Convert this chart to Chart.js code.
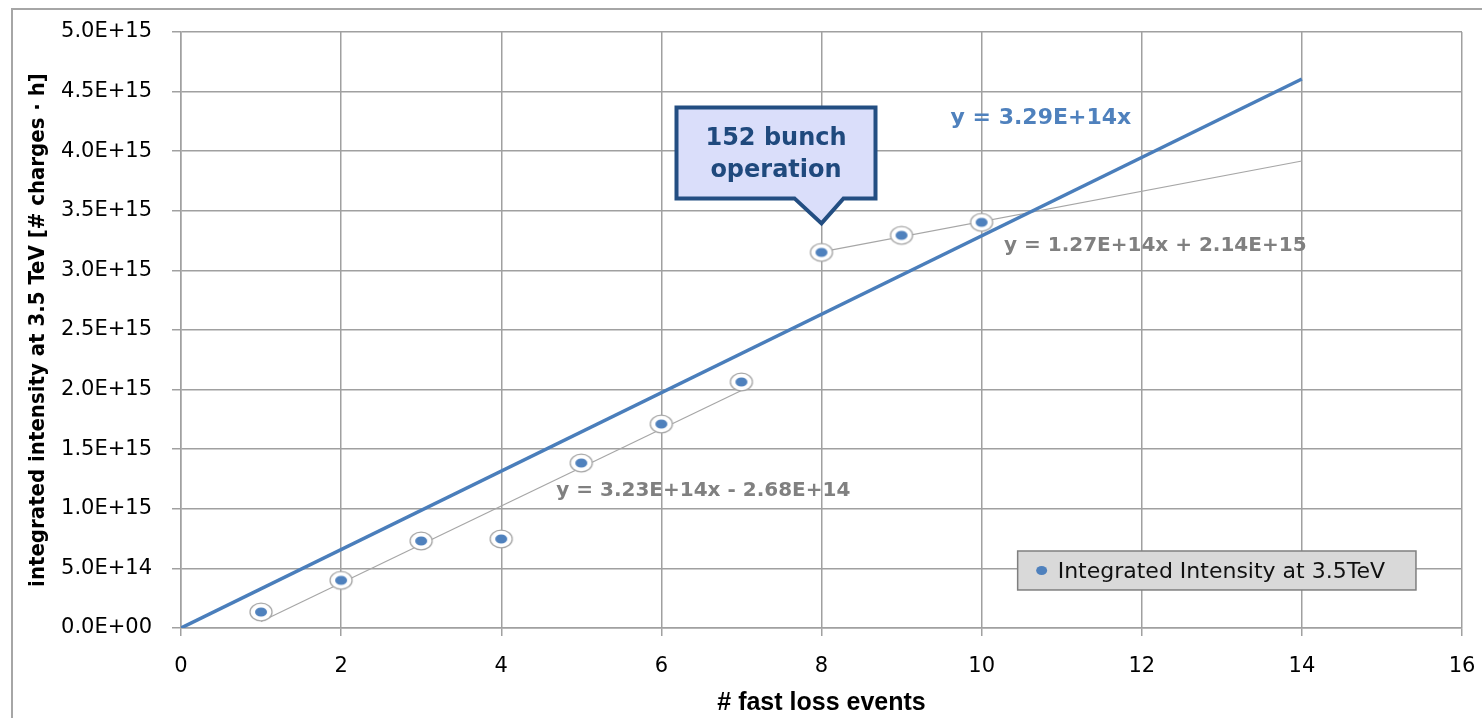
<!DOCTYPE html>
<html>
<head>
<meta charset="utf-8">
<script src="https://cdn.jsdelivr.net/npm/chart.js@4.4.1/dist/chart.umd.min.js"></script>
<style>
  html, body { margin: 0; padding: 0; background: #ffffff; }
  canvas { display: block; }
</style>
</head>
<body>
<canvas id="chart" width="1482" height="718"></canvas>
<script>
// Measured integrated intensity per fast loss event count
const fastLossEvents = [1, 2, 3, 4, 5, 6, 7, 8, 9, 10];
const integratedIntensity = [1.34e14, 4.0e14, 7.3e14, 7.47e14, 1.384e15, 1.711e15, 2.064e15, 3.151e15, 3.294e15, 3.403e15];

// Linear fits: slope, intercept, x range and the equation shown next to each
const fitSlopes = [3.29e14, 3.23e14, 1.27e14];
const fitIntercepts = [0, -2.68e14, 2.14e15];
const fitStarts = [0, 1, 8];
const fitEnds = [14, 7, 14];
const fitLabels = ['y = 3.29E+14x', 'y = 3.23E+14x - 2.68E+14', 'y = 1.27E+14x + 2.14E+15'];

// Axis ranges
const xRange = [0, 16, 2];
const yRange = [0, 5e15, 5e14];

const seriesName = 'Integrated Intensity at 3.5TeV';
const calloutLines = ['152 bunch', 'operation'];
const calloutPointIndex = 7;

const BLUE = '#4f81bd';
const GRID = '#a0a0a0';

function sciLabel(v) {
  if (Math.abs(v) < 1) return '0.0E+00';
  const e = Math.floor(Math.log10(Math.abs(v)) + 1e-9);
  const m = v / Math.pow(10, e);
  return m.toFixed(1) + 'E+' + String(e).padStart(2, '0');
}

// Circled marker: white ellipse ring with a blue dot inside
function makeMarker() {
  const c = document.createElement('canvas');
  c.width = 26; c.height = 22;
  const g = c.getContext('2d');
  g.beginPath();
  g.ellipse(13, 11, 11, 8.8, 0, 0, Math.PI * 2);
  g.fillStyle = '#ffffff';
  g.fill();
  g.lineWidth = 1.3;
  g.strokeStyle = '#a6a6a6';
  g.stroke();
  g.beginPath();
  g.ellipse(13, 11, 6, 4.6, 0, 0, Math.PI * 2);
  g.fillStyle = BLUE;
  g.fill();
  return c;
}

function fitPoints(i) {
  return [fitStarts[i], fitEnds[i]].map(x => ({ x: x, y: fitSlopes[i] * x + fitIntercepts[i] }));
}

// Text positions in data units (x, baseline y)
const labelAnchors = [
  { x: 9.6125, y: 4.228e15, color: BLUE, font: 'bold 22px "DejaVu Sans"' },
  { x: 4.6875, y: 1.104e15, color: '#808080', font: 'bold 20px "DejaVu Sans"' },
  { x: 10.28, y: 3.165e15, color: '#808080', font: 'bold 20px "DejaVu Sans"' }
];

const decorPlugin = {
  id: 'decor',
  beforeDraw(chart) {
    const ctx = chart.ctx;
    ctx.save();
    ctx.fillStyle = '#ffffff';
    ctx.fillRect(0, 0, chart.width, chart.height);
    ctx.strokeStyle = '#a6a6a6';
    ctx.lineWidth = 2;
    ctx.beginPath();
    ctx.moveTo(12, chart.height + 2);
    ctx.lineTo(12, 9);
    ctx.lineTo(chart.width + 2, 9);
    ctx.stroke();
    ctx.restore();
  },
  afterDatasetsDraw(chart) {
    const ctx = chart.ctx;
    const xs = chart.scales.x, ys = chart.scales.y;
    ctx.save();

    // Fit equations
    ctx.textBaseline = 'alphabetic';
    ctx.textAlign = 'left';
    labelAnchors.forEach((a, i) => {
      ctx.font = a.font;
      ctx.fillStyle = a.color;
      ctx.fillText(fitLabels[i], xs.getPixelForValue(a.x), ys.getPixelForValue(a.y));
    });

    // Callout pointing at the first 152-bunch point
    const px = xs.getPixelForValue(fastLossEvents[calloutPointIndex]);
    const py = ys.getPixelForValue(integratedIntensity[calloutPointIndex]);
    const left = px - 145, right = px + 54, top = py - 145, bottom = py - 54;
    ctx.beginPath();
    ctx.moveTo(left, top);
    ctx.lineTo(right, top);
    ctx.lineTo(right, bottom);
    ctx.lineTo(px + 22, bottom);
    ctx.lineTo(px, py - 29);
    ctx.lineTo(px - 27, bottom);
    ctx.lineTo(left, bottom);
    ctx.closePath();
    ctx.fillStyle = '#dadefa';
    ctx.fill();
    ctx.lineWidth = 4;
    ctx.lineJoin = 'miter';
    ctx.strokeStyle = '#234e82';
    ctx.stroke();
    ctx.font = 'bold 24px "DejaVu Sans"';
    ctx.fillStyle = '#1f497d';
    ctx.textAlign = 'center';
    const cx = (left + right) / 2;
    ctx.fillText(calloutLines[0], cx, py - 107.5);
    ctx.fillText(calloutLines[1], cx, py - 75);

    // Legend box
    const lx0 = xs.getPixelForValue(10.45), lx1 = xs.getPixelForValue(15.425);
    const ly0 = ys.getPixelForValue(6.46e14), ly1 = ys.getPixelForValue(3.19e14);
    ctx.fillStyle = '#d9d9d9';
    ctx.fillRect(lx0, ly0, lx1 - lx0, ly1 - ly0);
    ctx.lineWidth = 1.5;
    ctx.strokeStyle = '#7f7f7f';
    ctx.strokeRect(lx0, ly0, lx1 - lx0, ly1 - ly0);
    ctx.beginPath();
    ctx.ellipse(lx0 + 24, (ly0 + ly1) / 2, 5.5, 4.5, 0, 0, Math.PI * 2);
    ctx.fillStyle = BLUE;
    ctx.fill();
    ctx.font = '22px "DejaVu Sans"';
    ctx.fillStyle = '#111111';
    ctx.textAlign = 'left';
    ctx.fillText(seriesName, lx0 + 40, ly0 + 27.5);
    ctx.restore();
  }
};

const marker = makeMarker();

new Chart(document.getElementById('chart'), {
  type: 'scatter',
  data: {
    datasets: [
      {
        label: seriesName,
        data: fastLossEvents.map((x, i) => ({ x: x, y: integratedIntensity[i] })),
        pointStyle: marker,
        pointRadius: 11,
        showLine: false,
        order: 0
      },
      {
        label: 'fit all',
        data: fitPoints(0),
        showLine: true,
        borderColor: '#4a7ebb',
        borderWidth: 3.5,
        pointRadius: 0,
        order: 1
      },
      {
        label: 'fit 1-7',
        data: fitPoints(1),
        showLine: true,
        borderColor: '#a6a6a6',
        borderWidth: 1.2,
        pointRadius: 0,
        order: 2
      },
      {
        label: 'fit 8-10',
        data: fitPoints(2),
        showLine: true,
        borderColor: '#a6a6a6',
        borderWidth: 1.2,
        pointRadius: 0,
        order: 2
      }
    ]
  },
  options: {
    responsive: false,
    animation: false,
    events: [],
    layout: { padding: { left: 12, top: 32, right: 20, bottom: 0 } },
    plugins: {
      legend: { display: false },
      tooltip: { enabled: false }
    },
    scales: {
      x: {
        type: 'linear',
        min: xRange[0], max: xRange[1],
        ticks: {
          stepSize: xRange[2],
          color: '#000000',
          padding: 18,
          font: { family: '"DejaVu Sans"', size: 21 }
        },
        grid: { color: GRID, lineWidth: 1.5, tickLength: 8 },
        border: { color: GRID, width: 1.5 },
        title: {
          display: true,
          text: '# fast loss events',
          color: '#000000',
          padding: { top: 0, bottom: 0 },
          font: { family: '"Liberation Sans"', size: 25, weight: 'bold' }
        },
        afterFit(scale) {
          scale.height = 90;
          scale.paddingLeft = 0;
          scale.paddingRight = 0;
        }
      },
      y: {
        type: 'linear',
        min: yRange[0], max: yRange[1],
        ticks: {
          stepSize: yRange[2],
          color: '#000000',
          padding: 20,
          font: { family: '"DejaVu Sans"', size: 21 },
          callback: v => sciLabel(v)
        },
        grid: { color: GRID, lineWidth: 1.5, tickLength: 9 },
        border: { color: GRID, width: 1.5 },
        title: {
          display: true,
          text: 'integrated intensity at 3.5 TeV [# charges · h]',
          color: '#000000',
          padding: { top: 13, bottom: 0 },
          font: { family: '"DejaVu Sans Condensed"', size: 22, weight: 'bold' }
        },
        afterFit(scale) {
          scale.width = 169;
          scale.paddingTop = 0;
          scale.paddingBottom = 0;
        }
      }
    }
  },
  plugins: [decorPlugin]
});
</script>
</body>
</html>
